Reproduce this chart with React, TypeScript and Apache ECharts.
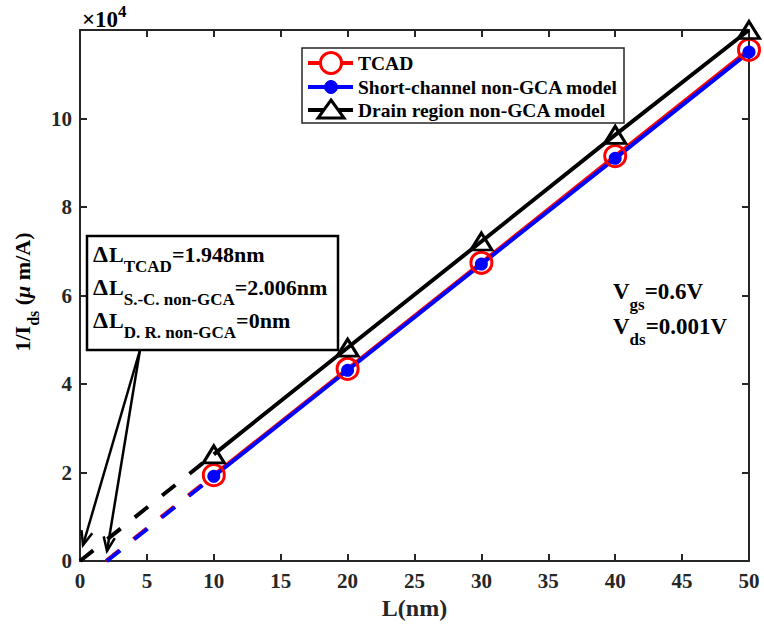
import React, { useEffect, useRef } from "react";
import * as echarts from "echarts";

// Channel lengths (nm) and inverse drain current 1/Ids (µm/A)
const lengths = [10, 20, 30, 40, 50];
const tcad = [1.94e4, 4.34e4, 6.74e4, 9.15e4, 11.55e4];
const shortChannel = [1.915e4, 4.31e4, 6.71e4, 9.1e4, 11.5e4];
const drainRegion = [2.41e4, 4.82e4, 7.22e4, 9.63e4, 12.0e4];

// Extrapolated zero-crossings (ΔL, nm)
const deltaLTcad = 1.948;
const deltaLShort = 2.006;
const deltaLDrain = 0;

const seriesNames = ["TCAD", "Short-channel non-GCA model", "Drain region non-GCA model"];
const xTickStep = 5;
const yTickStep = 2e4;

const RED = "#ff0000";
const BLUE = "#0000ff";
const BLACK = "#000000";
const AXIS = "#262626";
const FONT = '"Liberation Serif", "Times New Roman", serif';

let measureCtx: CanvasRenderingContext2D | null = null;
function textWidth(text: string, size: number, italic = false): number {
  if (!measureCtx) measureCtx = document.createElement("canvas").getContext("2d");
  measureCtx!.font = `${italic ? "italic " : ""}bold ${size}px ${FONT}`;
  return measureCtx!.measureText(text).width;
}

type Part = { t: string; s?: "sub" | "sup"; it?: boolean; size?: number; gap?: number };

// Lays out a line of text with sub/superscripts as separate text pieces
function scriptLine(x: number, y: number, parts: Part[], main: number, small: number, subDy: number, supDy: number) {
  const els: any[] = [];
  let cx = x;
  for (const p of parts) {
    const size = p.size ?? (p.s ? small : main);
    const dy = p.s === "sub" ? subDy : p.s === "sup" ? supDy : 0;
    els.push({
      type: "text",
      x: cx,
      y: y + dy,
      silent: true,
      style: {
        text: p.t,
        fontSize: size,
        fontWeight: "bold",
        fontStyle: p.it ? "italic" : "normal",
        fontFamily: FONT,
        fill: "#000",
        align: "left",
        verticalAlign: "middle",
      },
    });
    cx += textWidth(p.t, size, p.it) + (p.gap ?? 0);
  }
  return { els, width: cx - x };
}

function arrow(x1: number, y1: number, x2: number, y2: number) {
  const ang = Math.atan2(y2 - y1, x2 - x1);
  const len = 15;
  const spread = (22 * Math.PI) / 180;
  const a = [x2 - len * Math.cos(ang - spread), y2 - len * Math.sin(ang - spread)];
  const b = [x2 - len * Math.cos(ang + spread), y2 - len * Math.sin(ang + spread)];
  return [
    { type: "line", silent: true, z: 50, shape: { x1, y1, x2, y2 }, style: { stroke: "#000", lineWidth: 2.5 } },
    { type: "polyline", silent: true, z: 50, shape: { points: [a, [x2, y2], b] }, style: { stroke: "#000", lineWidth: 2.5, fill: "none" } },
  ];
}

function buildGraphics() {
  const g: any[] = [];

  // ×10^4 exponent
  g.push(...scriptLine(82, 19, [{ t: "×10" }, { t: "4", s: "sup" }], 23, 17, 0, -8).els);

  // y-axis title, rotated
  const yParts: Part[] = [{ t: "1/I" }, { t: "ds", s: "sub" }, { t: " (" }, { t: "μ", it: true }, { t: " m/A)" }];
  const yl = scriptLine(0, 0, yParts, 22, 16, 11, 0);
  g.push({ type: "group", x: 22, y: 292 + yl.width / 2, rotation: Math.PI / 2, children: yl.els });

  // legend box
  const lx = 302, ly = 48, lw = 322, lh = 75;
  const rows = [63, 87, 110];
  g.push({ type: "rect", silent: true, z: 60, shape: { x: lx, y: ly, width: lw, height: lh }, style: { fill: "#fff", stroke: AXIS, lineWidth: 1.5 } });
  const colors = [RED, BLUE, BLACK];
  rows.forEach((ry, i) => {
    g.push({ type: "line", silent: true, z: 61, shape: { x1: 308, y1: ry, x2: 353, y2: ry }, style: { stroke: colors[i], lineWidth: 4 } });
    g.push({
      type: "text", silent: true, z: 62, x: 358, y: ry,
      style: { text: seriesNames[i], fontSize: 19.5, fontWeight: "bold", fontFamily: FONT, fill: "#000", align: "left", verticalAlign: "middle" },
    });
  });
  g.push({ type: "circle", silent: true, z: 62, shape: { cx: 331, cy: rows[0], r: 10.5 }, style: { fill: "#fff", stroke: RED, lineWidth: 3 } });
  g.push({ type: "circle", silent: true, z: 62, shape: { cx: 331, cy: rows[1], r: 6.5 }, style: { fill: BLUE, stroke: BLUE, lineWidth: 1 } });
  g.push({
    type: "polygon", silent: true, z: 62,
    shape: { points: [[331, rows[2] - 10], [344, rows[2] + 8], [318, rows[2] + 8]] },
    style: { fill: "#fff", stroke: BLACK, lineWidth: 3 },
  });

  // ΔL annotation box
  g.push({ type: "rect", silent: true, z: 60, shape: { x: 87, y: 236, width: 251, height: 114 }, style: { fill: "#fff", stroke: "#000", lineWidth: 2.5 } });
  const dl = [
    { sub: "TCAD", val: `=${deltaLTcad.toFixed(3)}nm`, y: 254 },
    { sub: "S.-C. non-GCA", val: `=${deltaLShort.toFixed(3)}nm`, y: 287 },
    { sub: "D. R. non-GCA", val: `=${deltaLDrain}nm`, y: 320 },
  ];
  dl.forEach((r) => {
    const line = scriptLine(
      93, r.y,
      [{ t: "Δ", size: 24, gap: 1 }, { t: "L" }, { t: r.sub, s: "sub" }, { t: r.val }],
      22, 17, 12, 0
    );
    line.els.forEach((e) => (e.z = 61));
    g.push(...line.els);
  });

  // arrows to the zero-crossings
  g.push(...arrow(140, 350, 83, 545));
  g.push(...arrow(140, 350, 107, 551));

  // bias conditions
  g.push(...scriptLine(613, 291, [{ t: "V" }, { t: "gs", s: "sub" }, { t: "=0.6V" }], 23, 17, 13, 0).els);
  g.push(...scriptLine(613, 326, [{ t: "V" }, { t: "ds", s: "sub" }, { t: "=0.001V" }], 23, 17, 13, 0).els);

  return g;
}

const axisLine = { show: true, onZero: false, lineStyle: { color: AXIS, width: 2 } };
const axisTick = { show: true, inside: true, length: 7, lineStyle: { color: AXIS, width: 2 } };
const tickFont = { fontFamily: FONT, fontWeight: "bold", fontSize: 21, color: AXIS };

function pairs(xs: number[], ys: number[]) {
  return xs.map((x, i) => [x, ys[i]]);
}

export default function App() {
  const ref = useRef<HTMLDivElement>(null);

  useEffect(() => {
    if (!ref.current) return;
    const chart = echarts.init(ref.current, undefined, { renderer: "svg" });

    const dashed = (name: string, dl: number, ys: number[], color: string) => ({
      name,
      type: "line",
      data: [[dl, 0], [lengths[0], ys[0]]],
      symbol: "none",
      silent: true,
      lineStyle: { color, width: 4, type: [17, 18] },
      emphasis: { disabled: true },
    });

    const option: any = {
      animation: false,
      backgroundColor: "#ffffff",
      grid: { left: 80, right: 15, top: 30, bottom: 64, containLabel: false, outerBoundsMode: "none" },
      xAxis: [
        {
          type: "value", min: 0, max: 50, interval: xTickStep, position: "bottom",
          axisLine, axisTick, splitLine: { show: false },
          axisLabel: { ...tickFont, margin: 9 },
          name: "L(nm)", nameLocation: "middle", nameGap: 34,
          nameTextStyle: { fontFamily: FONT, fontWeight: "bold", fontSize: 24, color: AXIS },
        },
        {
          type: "value", min: 0, max: 50, interval: xTickStep, position: "top",
          axisLine, axisTick, splitLine: { show: false }, axisLabel: { show: false },
        },
      ],
      yAxis: [
        {
          type: "value", min: 0, max: 12e4, interval: yTickStep, position: "left",
          axisLine, axisTick, splitLine: { show: false },
          axisLabel: { ...tickFont, margin: 8, formatter: (v: number) => (v >= 12e4 ? "" : String(v / 1e4)) },
        },
        {
          type: "value", min: 0, max: 12e4, interval: yTickStep, position: "right",
          axisLine, axisTick, splitLine: { show: false }, axisLabel: { show: false },
        },
      ],
      series: [
        dashed("TCAD extrapolation", deltaLTcad, tcad, RED),
        dashed("Short-channel extrapolation", deltaLShort, shortChannel, BLUE),
        dashed("Drain region extrapolation", deltaLDrain, drainRegion, BLACK),
        {
          name: seriesNames[0], type: "line", data: pairs(lengths, tcad),
          symbol: "circle", symbolSize: 21,
          itemStyle: { color: "transparent", borderColor: RED, borderWidth: 3 },
          lineStyle: { color: RED, width: 4 }, emphasis: { disabled: true },
        },
        {
          name: seriesNames[1], type: "line", data: pairs(lengths, shortChannel),
          symbol: "circle", symbolSize: 13,
          itemStyle: { color: BLUE, borderColor: BLUE, borderWidth: 0 },
          lineStyle: { color: BLUE, width: 4 }, emphasis: { disabled: true },
        },
        {
          name: seriesNames[2], type: "line", data: pairs(lengths, drainRegion),
          symbol: "triangle", symbolSize: [21, 17],
          itemStyle: { color: "transparent", borderColor: BLACK, borderWidth: 3 },
          lineStyle: { color: BLACK, width: 4 }, emphasis: { disabled: true },
        },
      ],
      graphic: buildGraphics(),
    };

    chart.setOption(option);
    return () => chart.dispose();
  }, []);

  return <div ref={ref} style={{ width: 764, height: 625, position: "absolute", left: 0, top: 0 }} />;
}
